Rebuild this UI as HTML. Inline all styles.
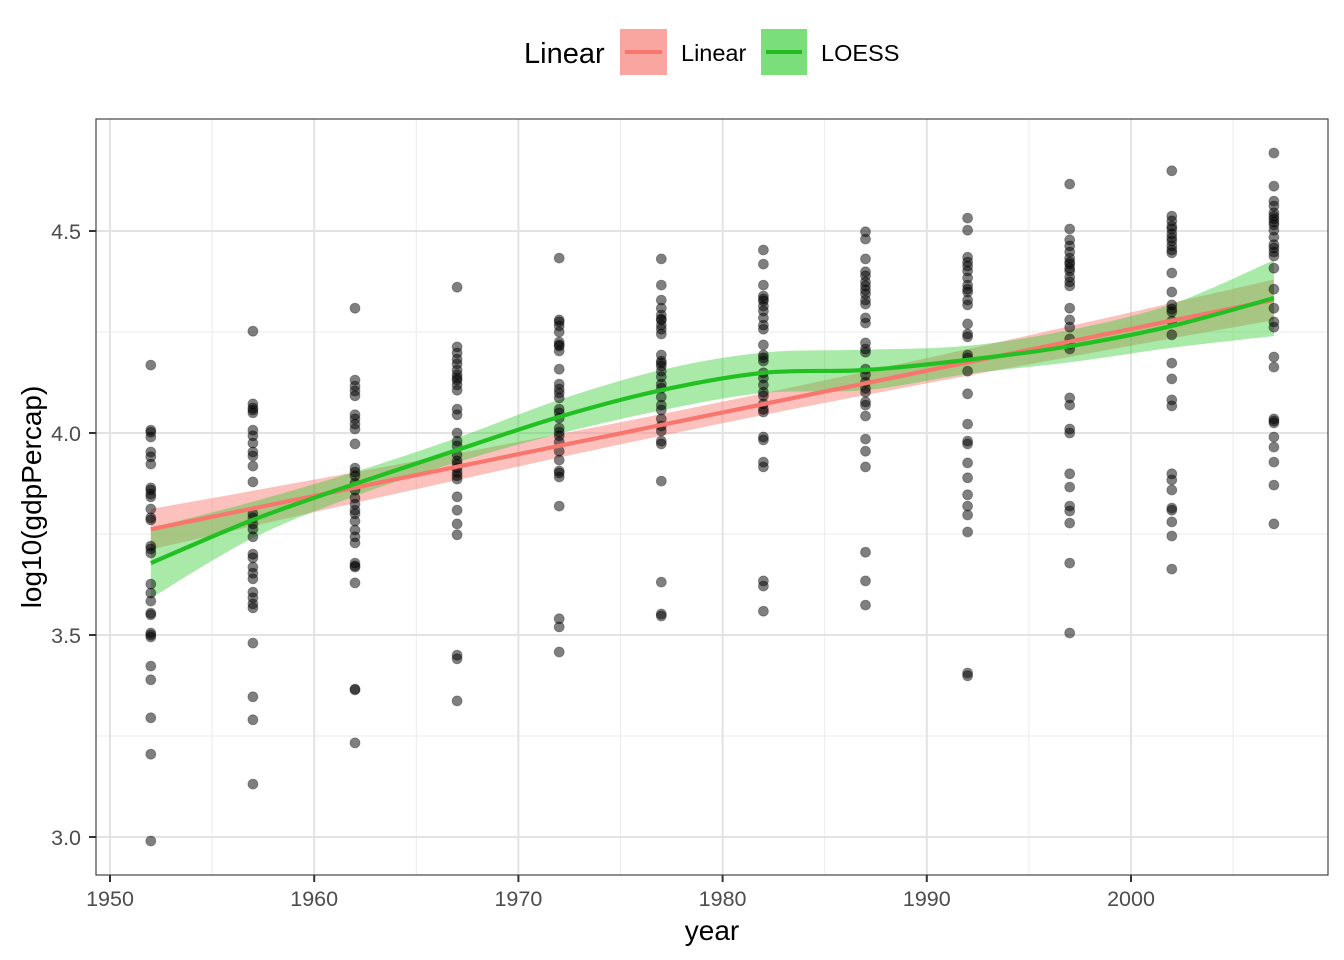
<!DOCTYPE html>
<html><head><meta charset="utf-8"><style>
body{margin:0;background:#fff}
svg{display:block;font-family:"Liberation Sans",Arial,sans-serif}
</style></head><body>
<svg id="chart" width="1344" height="960" viewBox="0 0 1344 960" xmlns="http://www.w3.org/2000/svg">
<rect width="1344" height="960" fill="#fff"/>
<g id="grid"></g>
<g id="bands"></g>
<g id="points"></g>
<g id="lines"></g>
<rect x="96" y="119" width="1232" height="756" fill="none" stroke="#333" stroke-width="1.1"/>
<g id="axes"></g>
<text x="712" y="940" text-anchor="middle" font-size="28" fill="#000">year</text>
<text transform="translate(41,497) rotate(-90)" text-anchor="middle" font-size="28" fill="#000">log10(gdpPercap)</text>
<g>
<text x="524" y="63" font-size="29" fill="#000">Linear</text>
<g>
<rect x="620" y="29" width="47" height="46" fill="#F8766D" fill-opacity="0.65"/>
<line x1="625" y1="52" x2="662" y2="52" stroke="#F8766D" stroke-width="4"/>
<text x="681" y="61" font-size="23.5" fill="#000">Linear</text>
</g>
<g>
<rect x="761" y="29" width="46" height="46" fill="#33cc33" fill-opacity="0.65"/>
<line x1="766" y1="52" x2="802" y2="52" stroke="#22bb22" stroke-width="4"/>
<text x="821" y="61" font-size="23.5" fill="#000">LOESS</text>
</g>
</g>
</svg>
<script>
const years=[1952,1957,1962,1967,1972,1977,1982,1987,1992,1997,2002,2007];
const v1952=[4.168,4.007,4.002,3.990,3.953,3.941,3.923,3.864,3.859,3.849,3.842,3.812,3.790,3.720,3.713,3.703,3.626,3.604,3.584,3.554,3.550,3.505,3.500,3.495,3.423,3.389,3.295,3.205,2.990,3.785];
const v1957=[4.252,4.072,4.057,4.050,4.007,3.993,3.975,3.953,3.943,3.918,3.879,3.800,3.790,3.775,3.762,3.700,3.691,3.668,3.653,3.639,3.606,3.592,3.577,3.567,3.480,3.347,3.290,3.131,4.062,3.743];
const v1962=[4.309,4.131,4.116,4.104,4.092,4.045,4.035,4.022,4.010,3.973,3.913,3.903,3.876,3.859,3.824,3.800,3.782,3.760,3.743,3.728,3.678,3.671,3.629,3.366,3.364,3.233,3.839,3.894,3.809,3.668];
const v1967=[4.361,4.213,4.198,4.183,4.171,4.156,4.131,4.119,4.106,4.059,4.045,4.000,3.980,3.968,3.931,3.913,3.903,3.894,3.842,3.809,3.775,3.748,3.450,3.441,3.337,4.144,4.136,3.946,3.923,3.886];
const v1972=[4.433,4.275,4.265,4.250,4.225,4.215,4.203,4.158,4.121,4.109,4.087,4.059,4.037,4.012,3.993,3.978,3.955,3.906,3.901,3.891,3.819,3.540,3.520,3.458,4.280,4.218,4.099,4.050,4.002,3.933];
const v1977=[4.431,4.366,4.329,4.309,4.292,4.280,4.267,4.245,4.193,4.178,4.166,4.153,4.121,4.089,4.069,4.057,4.035,4.005,3.980,3.973,3.881,3.631,3.552,3.547,4.282,4.257,4.173,4.139,4.111,4.017];
const v1982=[4.453,4.418,4.366,4.339,4.327,4.314,4.302,4.267,4.257,4.218,4.193,4.178,4.149,4.119,4.101,4.072,4.052,3.990,3.928,3.916,3.634,3.621,3.559,4.332,4.285,4.186,4.136,4.092,4.059,3.983];
const v1987=[4.498,4.480,4.431,4.399,4.374,4.364,4.344,4.329,4.285,4.272,4.223,4.208,4.158,4.126,4.111,4.069,3.985,3.955,3.916,3.705,3.634,3.574,4.389,4.354,4.319,4.200,4.144,4.101,4.077,4.042];
const v1992=[4.532,4.502,4.435,4.423,4.413,4.401,4.384,4.366,4.349,4.317,4.270,4.245,4.186,4.153,4.022,3.980,3.973,3.926,3.889,3.847,3.819,3.797,3.755,3.406,3.399,4.356,4.329,4.238,4.097,4.193];
const v1997=[4.616,4.505,4.478,4.463,4.448,4.433,4.418,4.401,4.386,4.374,4.309,4.280,4.233,4.208,4.087,4.069,4.010,4.000,3.899,3.866,3.819,3.807,3.777,3.678,3.505,4.423,4.408,4.364,4.262,4.220];
const v2002=[4.649,4.537,4.525,4.512,4.493,4.475,4.463,4.446,4.396,4.349,4.317,4.307,4.243,4.173,4.134,4.082,4.067,3.899,3.884,3.859,3.814,3.780,3.663,4.505,4.483,4.453,4.300,4.277,3.809,3.745];
const v2007=[4.693,4.611,4.574,4.562,4.545,4.530,4.515,4.502,4.485,4.458,4.438,4.408,4.356,4.309,4.275,4.262,4.188,4.163,4.035,4.025,3.990,3.965,3.928,3.871,3.775,4.537,4.522,4.466,4.448,4.030];
const loessFit=[3.678,3.785,3.874,3.958,4.040,4.106,4.149,4.156,4.181,4.215,4.265,4.334];
const loessHalf=[0.087,0.045,0.030,0.030,0.042,0.050,0.050,0.050,0.035,0.040,0.054,0.094];
const xTicks=[1950,1960,1970,1980,1990,2000];
const xMinor=[1955,1965,1975,1985,1995,2005];
const yTicks=[3.0,3.5,4.0,4.5];
const yMinor=[3.25,3.75,4.25];
const series=[v1952,v1957,v1962,v1967,v1972,v1977,v1982,v1987,v1992,v1997,v2002,v2007];

const NS='http://www.w3.org/2000/svg';
const X=yr=>110+(yr-1950)*20.42;
const Y=v=>837-(v-3)*404;
const L=96,R=1328,T=119,B=875;
function mk(tag,parent,attrs){const e=document.createElementNS(NS,tag);for(const k in attrs)e.setAttribute(k,attrs[k]);parent.appendChild(e);return e;}
const grid=document.getElementById('grid'),axes=document.getElementById('axes');
xMinor.forEach(t=>{const e=mk('line',grid,{x1:X(t),x2:X(t),y1:T,y2:B,stroke:'#ebebeb','stroke-width':1});

});
yMinor.forEach(t=>{const e=mk('line',grid,{x1:L,x2:R,y1:Y(t),y2:Y(t),stroke:'#ebebeb','stroke-width':1});

});
xTicks.forEach(t=>{const e=mk('line',grid,{x1:X(t),x2:X(t),y1:T,y2:B,stroke:'#e3e3e3','stroke-width':2});


const k=mk('line',axes,{x1:X(t),x2:X(t),y1:B,y2:B+7,stroke:'#333','stroke-width':2});


const tx=mk('text',axes,{x:X(t),y:906,'text-anchor':'middle','font-size':21.5,fill:'#4d4d4d'});tx.textContent=t;

});
yTicks.forEach(t=>{const e=mk('line',grid,{x1:L,x2:R,y1:Y(t),y2:Y(t),stroke:'#e3e3e3','stroke-width':2});


const k=mk('line',axes,{x1:L-7,x2:L,y1:Y(t),y2:Y(t),stroke:'#333','stroke-width':2});


const tx=mk('text',axes,{x:81,y:Y(t)+8,'text-anchor':'end','font-size':21.5,fill:'#4d4d4d'});tx.textContent=t.toFixed(1);

});

let xs=[],ys=[];series.forEach((s,i)=>s.forEach(v=>{xs.push(years[i]);ys.push(v);}));
const n=xs.length,mx=xs.reduce((a,b)=>a+b)/n,my=ys.reduce((a,b)=>a+b)/n;
let sxx=0,sxy=0;xs.forEach((x,i)=>{sxx+=(x-mx)**2;sxy+=(x-mx)*(ys[i]-my);});
const b1=sxy/sxx,b0=my-b1*mx;let sse=0;xs.forEach((x,i)=>{sse+=(ys[i]-b0-b1*x)**2;});
const s=Math.sqrt(sse/(n-2));
const lx=[],ly=[],lo=[],hi=[];
for(let k=0;k<=40;k++){const x=1952+55*k/40;const f=b0+b1*x;const se=s*Math.sqrt(1/n+(x-mx)**2/sxx)*1.97;lx.push(x);ly.push(f);lo.push(f-se);hi.push(f+se);}
const bands=document.getElementById('bands'),lines=document.getElementById('lines');
function pts(xa,ya){return xa.map((x,i)=>X(x).toFixed(1)+','+Y(ya[i]).toFixed(1));}
let p=mk('polygon',bands,{points:pts(lx,hi).concat(pts(lx,lo).reverse()).join(' '),fill:'#F8766D','fill-opacity':0.45});


function smooth(xa,ya){let d='M'+X(xa[0])+','+Y(ya[0]);for(let i=0;i<xa.length-1;i++){const p0=[X(xa[Math.max(i-1,0)]),Y(ya[Math.max(i-1,0)])],p1=[X(xa[i]),Y(ya[i])],p2=[X(xa[i+1]),Y(ya[i+1])],p3=[X(xa[Math.min(i+2,xa.length-1)]),Y(ya[Math.min(i+2,xa.length-1)])];
d+=' C'+(p1[0]+(p2[0]-p0[0])/6)+','+(p1[1]+(p2[1]-p0[1])/6)+' '+(p2[0]-(p3[0]-p1[0])/6)+','+(p2[1]-(p3[1]-p1[1])/6)+' '+p2[0]+','+p2[1];}return d;}
const lhi=loessFit.map((v,i)=>v+loessHalf[i]),llo=loessFit.map((v,i)=>v-loessHalf[i]);
let bandD=smooth(years,lhi);const ry=years.slice().reverse(),rl=llo.slice().reverse();
bandD+=' L'+smooth(ry,rl).slice(1)+' Z';
p=mk('path',bands,{d:bandD,fill:'#33cc33','fill-opacity':0.42});


const pg=document.getElementById('points');
series.forEach((sv,i)=>sv.forEach(v=>{const c=mk('circle',pg,{cx:X(years[i]).toFixed(1),cy:Y(v).toFixed(1),r:5,fill:'#000','fill-opacity':0.5,stroke:'#000','stroke-opacity':0.35,'stroke-width':0.8});

}));
p=mk('polyline',lines,{points:pts(lx,ly).join(' '),fill:'none',stroke:'#F8766D','stroke-width':4.2});


p=mk('path',lines,{d:smooth(years,loessFit),fill:'none',stroke:'#22c022','stroke-width':4.2});


</script>
</body></html>
